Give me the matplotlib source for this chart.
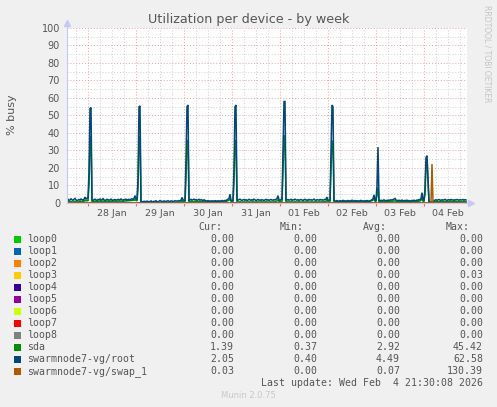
import matplotlib
matplotlib.use('Agg')
import matplotlib.pyplot as plt
import matplotlib.dates as mdates
from matplotlib.ticker import MultipleLocator, FuncFormatter
from matplotlib.patches import Rectangle
import pandas as pd

"""
Munin style weekly disk utilization graph.
"""

W, H = 497, 407

# one sample every 30 minutes, first one at Jan 27 13:30
start = '2026-01-27 13:30'
end = '2026-02-04 21:30'
n_samples = 400

# swarmnode7-vg/root
root = [
    1.6, 2.1, 1.4, 1.8, 2.4, 1.9, 1.5, 2.2, 2.6, 1.8, 1.3, 1.7, 2.0, 1.6, 2.3, 1.9, 1.5, 2.2, 3.4, 2.1, 2.8,
    3.0, 18.0, 54.0, 54.5, 1.8,
    1.4, 1.9, 2.2, 1.7, 1.5, 2.0, 1.8, 2.3, 1.6, 1.9, 2.5, 1.8,
    1.5, 1.7, 2.1, 1.9, 1.6, 1.8, 2.2, 1.7, 1.5, 1.9, 2.0, 1.6,
    1.8, 2.1, 1.7, 1.9, 2.3, 1.8, 1.6, 2.0, 1.9, 2.2, 1.7, 2.0,
    2.1, 1.8, 2.2, 2.4, 2.0, 2.6, 4.2, 2.3, 2.0,
    14.0, 55.0, 55.5, 1.0,
    0.8, 0.6, 1.0, 0.9, 0.7, 1.1, 0.8, 0.6, 0.9, 1.2, 0.8, 0.7,
    1.0, 0.9, 1.3, 0.8, 0.7, 1.0, 1.4, 1.1, 0.9, 0.8, 1.2, 1.0,
    0.9, 1.1, 1.3, 1.0, 0.8, 1.2, 1.1, 0.9, 1.0, 1.3, 1.1, 1.2,
    1.0, 1.4, 1.2, 1.6, 3.2, 1.9, 1.4,
    1.6, 25.0, 55.0, 56.0, 1.2,
    1.8, 2.1, 1.6, 1.9, 2.2, 1.7, 2.0, 1.5, 1.8, 2.1, 1.6, 1.9,
    1.7, 1.4, 1.8, 1.5, 1.2, 1.0, 1.3, 0.9, 1.1, 0.8, 1.2, 1.0,
    0.9, 1.3, 1.1, 0.8, 1.0, 1.2, 0.9, 1.1, 1.4, 1.0, 1.2, 1.5,
    1.3, 1.8, 2.2, 2.6, 5.0, 1.6, 1.4,
    1.5, 20.0, 55.0, 56.0, 1.5,
    1.6, 1.9, 2.2, 1.7, 1.5, 1.8, 2.0, 1.6, 1.9, 1.4, 1.7, 2.1,
    1.8, 1.5, 1.9, 1.6, 2.2, 1.8, 1.4, 1.7, 2.0, 1.6, 1.8, 1.5,
    1.9, 1.7, 1.4, 1.8, 2.1, 1.6, 1.9, 1.5, 1.8, 2.0, 1.7, 1.6,
    1.9, 1.7, 2.1, 2.6, 4.2, 1.8, 1.5, 2.0,
    2.0, 30.0, 58.0, 58.0, 1.5,
    1.7, 2.0, 1.6, 1.8, 2.1, 1.5, 1.9, 1.7, 2.2, 1.8, 1.6, 1.9,
    1.5, 1.8, 2.0, 1.7, 1.4, 1.9, 2.1, 1.6, 1.8, 1.5, 2.0, 1.7,
    1.9, 1.6, 1.8, 2.2, 1.7, 1.5, 1.9, 1.8, 1.6, 2.0, 1.7, 1.9,
    1.6, 1.8, 2.1, 2.0, 3.4, 1.7, 1.5,
    1.8, 30.0, 56.0, 55.0, 1.5,
    1.2, 1.0, 1.4, 1.1, 0.9, 1.3, 1.2, 1.0, 1.5, 1.1, 1.3, 0.9,
    1.2, 1.4, 1.0, 1.3, 1.1, 1.6, 1.2, 1.0, 1.4, 1.1, 1.3, 1.2,
    1.0, 1.3, 1.5, 1.1, 1.2, 0.9, 1.3, 1.1, 1.4, 1.2, 1.0, 1.3,
    1.5, 1.9, 2.4, 4.6, 1.8, 1.4,
    10.0, 32.0, 1.5,
    1.3, 1.6, 1.2, 1.5, 1.8, 1.4, 1.2, 1.6, 1.3, 1.7, 1.5, 1.9,
    1.6, 2.0, 2.2, 2.6, 1.8, 1.5, 1.3, 1.6, 1.2, 1.4, 1.7, 1.3,
    1.1, 1.5, 1.3, 1.6, 1.2, 1.4, 1.0, 1.3, 1.5, 1.2, 1.6, 1.4,
    1.3, 1.7, 1.5, 2.0, 1.8, 2.6,
    5.9, 2.0, 1.6,
    8.0, 26.0, 27.0, 14.0, 1.0,
    0.4, 0.5, 0.6, 0.8, 1.4,
    1.6, 1.9, 1.5, 1.8, 2.0, 1.7, 1.5, 1.9, 1.6, 1.8, 2.1, 1.7,
    1.5, 1.8, 1.9, 1.6, 2.0, 1.7, 1.8, 1.5, 1.9, 1.7, 2.0, 1.8,
    1.6, 1.9, 1.7, 1.8, 2.0, 1.6, 1.9, 1.7,
]

# sda
sda = [
    0.6, 0.8, 0.5, 0.7, 0.9, 0.6, 0.5, 0.8, 1.0, 0.7, 0.5, 0.6, 0.8, 0.7, 0.9, 0.8, 0.6, 1.0, 1.6, 1.2, 1.4,
    1.2, 10.0, 34.0, 38.0, 0.8,
    0.8, 1.0, 0.9, 1.1, 0.8, 1.0, 0.9, 1.2, 1.0, 0.9, 1.1, 1.0,
    0.8, 1.0, 1.1, 0.9, 1.0, 0.8, 1.1, 0.9, 1.0, 1.2, 0.9, 1.0,
    1.1, 0.9, 1.0, 1.2, 1.0, 0.9, 1.1, 1.0, 1.2, 1.1, 1.3, 1.2,
    1.4, 1.3, 1.5, 1.4, 1.6, 1.5, 2.0, 1.4, 1.2,
    8.0, 36.0, 38.0, 0.6,
    0.3, 0.2, 0.4, 0.3, 0.2, 0.3, 0.4, 0.2, 0.3, 0.3, 0.2, 0.4,
    0.3, 0.2, 0.3, 0.4, 0.3, 0.2, 0.3, 0.4, 0.3, 0.2, 0.3, 0.3,
    0.4, 0.3, 0.2, 0.3, 0.4, 0.3, 0.3, 0.2, 0.4, 0.3, 0.3, 0.4,
    0.3, 0.5, 0.4, 0.6, 1.5, 0.8, 0.6,
    0.7, 14.0, 35.0, 36.0, 0.4,
    0.7, 0.9, 0.8, 0.6, 0.8, 0.9, 0.7, 0.8, 0.6, 0.9, 0.8, 0.7,
    0.9, 0.8, 1.0, 1.1, 0.9, 1.0, 1.2, 1.0, 0.9, 1.1, 1.0, 0.9,
    1.1, 1.0, 0.9, 1.2, 1.0, 1.1, 0.9, 1.0, 1.2, 1.0, 1.1, 1.0,
    0.9, 1.1, 1.3, 1.6, 2.4, 0.9, 0.7,
    0.8, 12.0, 35.0, 36.0, 0.6,
    0.6, 0.5, 0.7, 0.6, 0.5, 0.6, 0.7, 0.5, 0.6, 0.6, 0.5, 0.7,
    0.6, 0.5, 0.6, 0.7, 0.6, 0.5, 0.6, 0.7, 0.5, 0.6, 0.6, 0.5,
    0.7, 0.6, 0.5, 0.6, 0.7, 0.6, 0.5, 0.6, 0.6, 0.7, 0.5, 0.6,
    0.7, 0.6, 0.8, 1.2, 2.0, 0.8, 0.6, 0.7,
    0.8, 18.0, 38.0, 38.5, 0.6,
    0.6, 0.7, 0.5, 0.6, 0.7, 0.6, 0.5, 0.6, 0.7, 0.6, 0.5, 0.6,
    0.7, 0.6, 0.5, 0.6, 0.6, 0.7, 0.5, 0.6, 0.7, 0.6, 0.5, 0.6,
    0.6, 0.7, 0.5, 0.6, 0.7, 0.6, 0.6, 0.5, 0.7, 0.6, 0.6, 0.7,
    0.6, 0.7, 0.9, 1.0, 1.8, 0.7, 0.6,
    0.7, 18.0, 35.5, 35.0, 0.5,
    0.8, 0.9, 1.0, 0.8, 0.9, 1.0, 0.8, 0.9, 1.1, 0.9, 0.8, 1.0,
    0.9, 1.0, 0.8, 0.9, 1.0, 1.1, 0.9, 0.8, 1.0, 0.9, 1.0, 0.9,
    0.8, 1.0, 0.9, 1.1, 0.9, 0.8, 1.0, 0.9, 1.0, 0.9, 0.8, 1.0,
    1.1, 1.3, 1.6, 2.8, 1.0, 0.8,
    5.0, 9.0, 0.5,
    0.8, 0.7, 0.9, 0.8, 0.7, 0.9, 0.8, 0.7, 0.8, 0.9, 0.7, 0.8,
    0.9, 1.0, 1.2, 1.3, 0.9, 0.8, 0.7, 0.8, 0.7, 0.9, 0.8, 0.7,
    0.8, 0.7, 0.9, 0.8, 0.7, 0.8, 0.9, 0.7, 0.8, 0.9, 0.8, 0.7,
    0.8, 0.9, 0.8, 1.0, 1.1, 1.5,
    3.0, 1.0, 0.8,
    5.0, 22.0, 25.0, 12.0, 0.5,
    0.3, 0.3, 0.4, 0.5, 0.7,
    0.8, 0.7, 0.9, 0.8, 0.7, 0.9, 0.8, 0.7, 0.8, 0.9, 0.8, 0.7,
    0.8, 0.9, 0.7, 0.8, 0.9, 0.8, 0.7, 0.8, 0.9, 0.8, 0.7, 0.8,
    0.9, 0.8, 0.7, 0.8, 0.9, 0.8, 0.7, 0.8,
]

# swap only shows one short burst on Feb 4 early morning
swap_1 = [0.0] * 365 + [22.3] + [0.0] * 34
loop_zero = [0.0] * n_samples

labels = ['loop0', 'loop1', 'loop2', 'loop3', 'loop4', 'loop5', 'loop6',
          'loop7', 'loop8', 'sda', 'swarmnode7-vg/root', 'swarmnode7-vg/swap_1']
colors = ['#00CC00', '#0066B3', '#FF8000', '#FFCC00', '#330099', '#990099',
          '#CCFF00', '#FF0000', '#808080', '#008F00', '#00487D', '#B35A00']
cur = ['0.00'] * 9 + ['1.39', '2.05', '0.03']
mins = ['0.00'] * 9 + ['0.37', '0.40', '0.00']
avgs = ['0.00'] * 9 + ['2.92', '4.49', '0.07']
maxs = ['0.00', '0.00', '0.00', '0.03', '0.00', '0.00', '0.00', '0.00', '0.00',
        '45.42', '62.58', '130.39']
last_update = 'Last update: Wed Feb  4 21:30:08 2026'

assert len(root) == n_samples and len(sda) == n_samples

times = pd.date_range(start, periods=n_samples, freq='30min')
series = [loop_zero] * 9 + [sda, root, swap_1]

txt = '#555555'
fig = plt.figure(figsize=(W / 100, H / 100), dpi=100, facecolor='#f0f0f0')
ax = fig.add_axes([67 / W, (H - 203) / H, 400 / W, 175 / H])
ax.set_facecolor('white')

for vals, c in zip(series, colors):
    ax.plot(times, vals, color=c, lw=1.1, solid_joinstyle='miter')

ax.set_xlim(pd.Timestamp(start), pd.Timestamp(end))
ax.set_ylim(0, 100)

ax.yaxis.set_major_locator(MultipleLocator(10))
ax.yaxis.set_minor_locator(MultipleLocator(5))
ax.xaxis.set_major_locator(mdates.DayLocator())
ax.xaxis.set_major_formatter(FuncFormatter(lambda v, p: ''))
ax.xaxis.set_minor_locator(mdates.HourLocator(byhour=[0, 6, 12, 18]))
ax.xaxis.set_minor_formatter(FuncFormatter(
    lambda v, p: mdates.num2date(v).strftime('%d %b') if mdates.num2date(v).hour == 12 else ''))

dots = (0, (1, 2))
ax.grid(which='major', color='#eea0a0', ls=dots, lw=0.7)
ax.grid(which='minor', color='#cfcfcf', ls=dots, lw=0.7)
ax.set_axisbelow(True)

ax.tick_params(axis='y', which='both', length=0, pad=5, labelsize=7, labelcolor=txt)
ax.tick_params(axis='x', which='major', length=2, color='#e07070', direction='out')
ax.tick_params(axis='x', which='minor', length=0, pad=4, labelsize=6.8, labelcolor=txt)

for s in ['top', 'right']:
    ax.spines[s].set_visible(False)
ax.spines['left'].set_color('#c8c8f8')
ax.spines['bottom'].set_color('#c8c8f8')
ax.plot([0, 0], [1, 1.03], color='#c8c8f8', lw=0.8, transform=ax.transAxes, clip_on=False)
ax.plot([0], [1.03], marker='^', ms=4, color='#c8c8f8', transform=ax.transAxes, clip_on=False)
ax.plot([1, 1.01], [0, 0], color='#c8c8f8', lw=0.8, transform=ax.transAxes, clip_on=False)
ax.plot([1.01], [0], marker='>', ms=4, color='#c8c8f8', transform=ax.transAxes, clip_on=False)

fig.text(249 / W, 1 - 19 / H, 'Utilization per device - by week', ha='center', va='center',
         fontsize=9.2, color=txt)
fig.text(12 / W, 1 - 115 / H, '% busy', rotation=90, ha='center', va='center',
         fontsize=8, color=txt)
fig.text(487 / W, 1 - 5 / H, 'RRDTOOL / TOBI OETIKER', rotation=270, ha='center', va='top',
         fontsize=5.5, color='#c4c4c4')

mono = dict(family='DejaVu Sans Mono', fontsize=7.1, color=txt, va='center')
header_y = 227
for label, xr in [('Cur:', 222), ('Min:', 304), ('Avg:', 387), ('Max:', 470)]:
    fig.text(xr / W, 1 - header_y / H, label, ha='right', **mono)

for k in range(len(labels)):
    y = 239.5 + 12 * k
    fig.add_artist(Rectangle((14 / W, 1 - (y + 3.5) / H), 7 / W, 7 / H,
                             transform=fig.transFigure, facecolor=colors[k], edgecolor='none'))
    fig.text(27 / W, 1 - y / H, labels[k], ha='left', **mono)
    for col, xr in [(cur, 234), (mins, 317), (avgs, 400), (maxs, 483)]:
        fig.text(xr / W, 1 - y / H, col[k], ha='right', **mono)

fig.text(483 / W, 1 - 383 / H, last_update, ha='right', **mono)
fig.text(248 / W, 1 - 396 / H, 'Munin 2.0.75', ha='center', va='center',
         fontsize=6, color='#c8c8c8')

fig.savefig('out.png', dpi=100, facecolor=fig.get_facecolor())
